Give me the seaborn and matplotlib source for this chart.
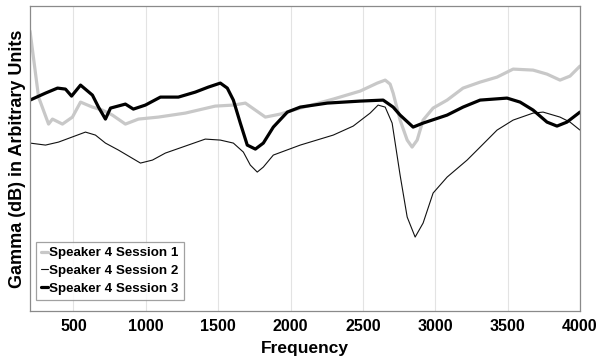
import matplotlib
matplotlib.use("Agg")
import matplotlib.pyplot as plt
import seaborn as sns
import pandas as pd

# Session 1 (light grey, thick)
freq_s1 = [200, 259, 328, 355, 424, 493, 549, 631, 700, 769, 859, 949, 1087, 1273,
           1480, 1605, 1688, 1757, 1826, 1929, 2067, 2295, 2481, 2599, 2654, 2688,
           2709, 2757, 2806, 2840, 2875, 2916, 2985, 3082, 3192, 3310, 3427, 3538,
           3676, 3772, 3862, 3931, 4000]
gamma_s1 = [280, 214, 187, 192, 187, 194, 209, 204, 201, 196, 187, 192, 194, 198,
            205, 206, 208, 201, 194, 197, 203, 212, 220, 228, 231, 227,
            218, 191, 171, 164, 171, 191, 203, 211, 223, 229, 234, 242,
            241, 237, 231, 235, 245]

# Session 2 (black, thin)
freq_s2 = [200, 307, 397, 583, 652, 721, 811, 963, 1046, 1135, 1273, 1411, 1515,
           1605, 1674, 1722, 1770, 1812, 1881, 2067, 2295, 2433, 2550, 2605, 2654,
           2702, 2757, 2806, 2861, 2916, 2985, 3082, 3220, 3310, 3427, 3538, 3676,
           3745, 3862, 3931, 4000]
gamma_s2 = [168, 166, 169, 179, 176, 168, 161, 148, 151, 158, 165, 172, 171,
            168, 159, 146, 139, 144, 156, 166, 176, 185, 198, 206, 204,
            188, 136, 94, 74, 88, 118, 134, 151, 164, 181, 191, 198,
            199, 194, 189, 181]

# Session 3 (black, thick)
freq_s3 = [200, 307, 390, 445, 487, 549, 631, 673, 721, 756, 859, 914, 997, 1101,
           1225, 1342, 1432, 1515, 1563, 1605, 1653, 1701, 1757, 1812, 1881, 1978,
           2067, 2254, 2481, 2640, 2709, 2757, 2847, 2916, 3082, 3192, 3310, 3496,
           3586, 3676, 3772, 3841, 3910, 4000]
gamma_s3 = [211, 218, 223, 222, 215, 226, 216, 204, 192, 203, 207, 202, 206, 214,
            214, 219, 224, 228, 223, 211, 188, 166, 162, 168, 184, 199,
            204, 208, 210, 211, 204, 196, 184, 188, 196, 204, 211, 213,
            209, 201, 189, 185, 189, 199]

labels = ["Speaker 4 Session 1", "Speaker 4 Session 2", "Speaker 4 Session 3"]
x_ticks = [500, 1000, 1500, 2000, 2500, 3000, 3500, 4000]

sns.set_theme(style="white")
plt.rcParams["font.family"] = ["Liberation Sans", "DejaVu Sans"]
plt.rcParams["text.color"] = "black"
plt.rcParams["axes.labelcolor"] = "black"
plt.rcParams["xtick.color"] = "black"

fig = plt.figure(figsize=(5.97, 3.6), dpi=100)
ax = fig.add_axes([0.0503, 0.136, 0.9212, 0.847])

styles = [("#c8c8c8", 2.3), ("#111111", 0.8), ("#000000", 2.3)]
for (fx, gy), lab, (col, lw) in zip([(freq_s1, gamma_s1), (freq_s2, gamma_s2), (freq_s3, gamma_s3)],
                                    labels, styles):
    df = pd.DataFrame({"Frequency": fx, "Gamma": gy})
    sns.lineplot(data=df, x="Frequency", y="Gamma", ax=ax, color=col, linewidth=lw,
                 label=lab, sort=False)

ax.set_xlim(200, 4000)
ax.set_ylim(0, 305)
ax.set_xticks(x_ticks)
ax.set_xticklabels([str(t) for t in x_ticks], fontweight="bold", fontsize=11.5)
ax.set_yticks([])
ax.tick_params(axis="x", length=0, pad=6)
ax.grid(axis="x", color="#e3e3e3", linewidth=0.8)
ax.grid(axis="y", visible=False)
for s in ax.spines.values():
    s.set_color("#8a8a8a")
    s.set_linewidth(0.9)

ax.set_xlabel("Frequency", fontweight="bold", fontsize=12.5, labelpad=5)
ax.set_ylabel("Gamma (dB) in Arbitrary Units", fontweight="bold", fontsize=13, labelpad=3)

leg = ax.legend(loc="lower left", bbox_to_anchor=(0.01, 0.035), frameon=True,
                fancybox=False, handlelength=0.5, handletextpad=0.1,
                borderpad=0.4, labelspacing=0.42, borderaxespad=0,
                prop={"weight": "bold", "size": 9.6})
leg.get_frame().set_edgecolor("#8a8a8a")
leg.get_frame().set_linewidth(0.9)

fig.savefig("out.png", dpi=100)
